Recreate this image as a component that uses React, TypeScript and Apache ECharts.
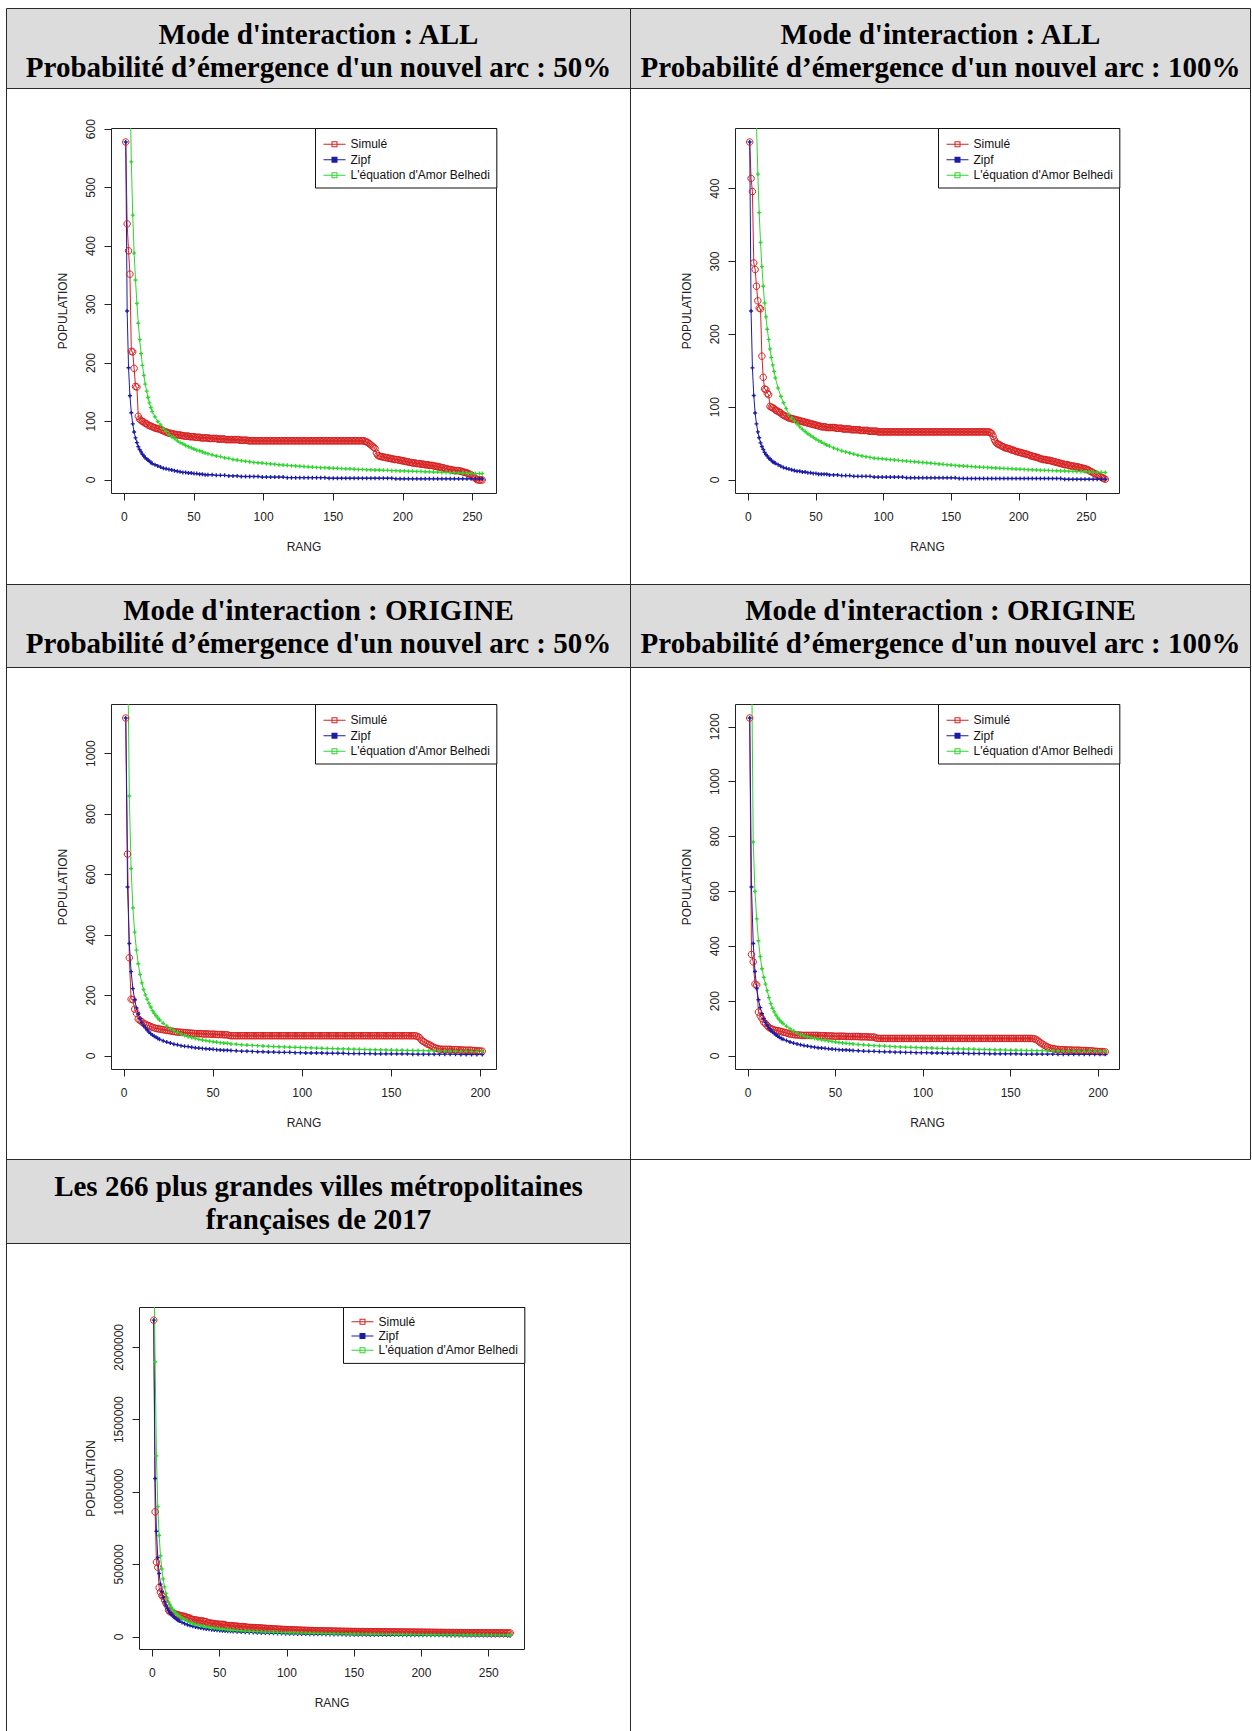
import React, { useEffect, useRef } from "react";
import * as echarts from "echarts";

// ------------------------------------------------------------------ data
// every rank (used by the simulated series, which is drawn at every rank)
const ranksFull = [
  1, 2, 3, 4, 5, 6, 7, 8, 9, 10, 11, 12, 13, 14, 15, 16, 17, 18, 19, 20,
  21, 22, 23, 24, 25, 26, 27, 28, 29, 30, 31, 32, 33, 34, 35, 36, 37, 38, 39, 40,
  41, 42, 43, 44, 45, 46, 47, 48, 49, 50, 51, 52, 53, 54, 55, 56, 57, 58, 59, 60,
  61, 62, 63, 64, 65, 66, 67, 68, 69, 70, 71, 72, 73, 74, 75, 76, 77, 78, 79, 80,
  81, 82, 83, 84, 85, 86, 87, 88, 89, 90, 91, 92, 93, 94, 95, 96, 97, 98, 99, 100,
  101, 102, 103, 104, 105, 106, 107, 108, 109, 110, 111, 112, 113, 114, 115, 116, 117, 118, 119, 120,
  121, 122, 123, 124, 125, 126, 127, 128, 129, 130, 131, 132, 133, 134, 135, 136, 137, 138, 139, 140,
  141, 142, 143, 144, 145, 146, 147, 148, 149, 150, 151, 152, 153, 154, 155, 156, 157, 158, 159, 160,
  161, 162, 163, 164, 165, 166, 167, 168, 169, 170, 171, 172, 173, 174, 175, 176, 177, 178, 179, 180,
  181, 182, 183, 184, 185, 186, 187, 188, 189, 190, 191, 192, 193, 194, 195, 196, 197, 198, 199, 200,
  201, 202, 203, 204, 205, 206, 207, 208, 209, 210, 211, 212, 213, 214, 215, 216, 217, 218, 219, 220,
  221, 222, 223, 224, 225, 226, 227, 228, 229, 230, 231, 232, 233, 234, 235, 236, 237, 238, 239, 240,
  241, 242, 243, 244, 245, 246, 247, 248, 249, 250, 251, 252, 253, 254, 255, 256, 257, 258, 259, 260,
  261, 262, 263, 264, 265, 266,
];

// ---- Panel 1 : Mode ALL, 50 %
const sim1 = [
  578, 438, 392, 352, 220, 219, 191, 160, 159, 109,
  104, 102, 100, 99, 97, 96, 94, 93, 92, 91,
  90, 89, 88, 88, 87, 86, 85, 84, 83, 82,
  81, 80, 80, 79, 79, 78, 78, 77, 77, 77,
  76, 76, 75, 75, 75, 75, 74, 74, 74, 74,
  73, 73, 73, 73, 72, 72, 72, 72, 72, 72,
  71, 71, 71, 71, 71, 71, 70, 70, 70, 70,
  70, 70, 69, 69, 69, 69, 69, 69, 69, 69,
  69, 69, 68, 68, 68, 68, 68, 68, 67, 67,
  67, 67, 67, 67, 67, 67, 67, 67, 67, 67,
  67, 67, 67, 67, 67, 67, 67, 67, 67, 67,
  67, 67, 67, 67, 67, 67, 67, 67, 67, 67,
  67, 67, 67, 67, 67, 67, 67, 67, 67, 67,
  67, 67, 67, 67, 67, 67, 67, 67, 67, 67,
  67, 67, 67, 67, 67, 67, 67, 67, 67, 67,
  67, 67, 67, 67, 67, 67, 67, 67, 67, 67,
  67, 67, 67, 67, 67, 67, 67, 67, 67, 67,
  67, 67, 66, 65, 64, 62, 60, 58, 56, 54,
  46, 42, 41, 40, 40, 39, 39, 38, 38, 37,
  37, 36, 36, 35, 35, 35, 34, 34, 33, 33,
  32, 32, 31, 31, 30, 30, 29, 29, 29, 28,
  28, 28, 27, 27, 27, 26, 26, 26, 25, 25,
  25, 24, 24, 23, 23, 22, 22, 21, 21, 20,
  19, 19, 18, 18, 17, 17, 16, 16, 16, 16,
  15, 15, 14, 13, 13, 12, 11, 10, 9, 7,
  5, 3, 1, 0, 0, 0, 0,
];
const ranksFit1 = [
  1, 2, 3, 4, 5, 6, 7, 8, 9, 10, 11, 12, 13, 14, 15, 16, 17, 18, 19, 20,
  22, 24, 26, 28, 30, 32, 34, 36, 38, 40, 42, 44, 46, 48, 50, 52, 54, 56, 58, 60,
  63, 66, 69, 72, 75, 78, 81, 84, 87, 90, 93, 96, 99, 102, 105, 108, 111, 114, 117, 120,
  123, 126, 129, 132, 135, 138, 141, 144, 147, 150, 153, 156, 159, 162, 165, 168, 171, 174, 177, 180,
  183, 186, 189, 192, 195, 198, 201, 204, 207, 210, 213, 216, 219, 222, 225, 228, 231, 234, 237, 240,
  243, 246, 249, 252, 255, 257,
];
const zipf1 = [
  578, 289, 192, 144, 115, 96, 82, 72, 64, 57,
  52, 48, 44, 41, 38, 36, 34, 32, 30, 28,
  26, 24, 22, 20, 19, 18, 17, 16, 15, 14,
  13, 13, 12, 12, 11, 11, 10, 10, 9, 9,
  9, 8, 8, 8, 7, 7, 7, 6, 6, 6,
  6, 6, 5, 5, 5, 5, 5, 5, 4, 4,
  4, 4, 4, 4, 4, 4, 4, 4, 3, 3,
  3, 3, 3, 3, 3, 3, 3, 3, 3, 3,
  3, 3, 3, 3, 2, 2, 2, 2, 2, 2,
  2, 2, 2, 2, 2, 2, 2, 2, 2, 2,
  2, 2, 2, 2, 2, 2,
];
const bel1 = [
  2720, 1360, 907, 680, 544, 453, 388, 342, 302, 268,
  240, 216, 196, 179, 164, 152, 141, 132, 124, 117,
  108, 100, 94, 88, 83, 78, 74, 71, 67, 64,
  62, 59, 57, 55, 53, 51, 50, 48, 46, 45,
  43, 41, 40, 38, 37, 35, 34, 33, 32, 31,
  30, 29.5, 29, 28, 27.5, 27, 26, 25.5, 25, 24.5,
  24, 23.5, 23, 22.5, 22, 21.5, 21, 21, 20.5, 20,
  20, 19.5, 19, 19, 18.5, 18, 18, 17.5, 17.5, 17,
  17, 16.5, 16.5, 16, 16, 15.5, 15.5, 15, 15, 14.5,
  14.5, 14, 14, 13.5, 13.5, 13, 13, 12.5, 12.5, 12,
  12, 11.5, 11.5, 11, 11, 11,
];

// ---- Panel 2 : Mode ALL, 100 %
const sim2 = [
  464, 414, 396, 298, 289, 266, 246, 236, 235, 170,
  141, 125, 124, 119, 117, 101, 100, 99, 98, 96,
  95, 94, 93, 92, 90, 89, 88, 87, 86, 85,
  85, 84, 84, 83, 83, 82, 82, 81, 81, 80,
  80, 79, 79, 78, 78, 77, 77, 76, 76, 75,
  75, 74, 74, 73, 73, 73, 73, 72, 72, 72,
  72, 72, 72, 72, 71, 71, 71, 71, 71, 70,
  70, 70, 70, 70, 70, 69, 69, 69, 69, 69,
  69, 69, 68, 68, 68, 68, 68, 68, 67, 67,
  67, 67, 67, 67, 67, 66, 66, 66, 66, 66,
  66, 66, 66, 66, 66, 66, 66, 66, 66, 66,
  66, 66, 66, 66, 66, 66, 66, 66, 66, 66,
  66, 66, 66, 66, 66, 66, 66, 66, 66, 66,
  66, 66, 66, 66, 66, 66, 66, 66, 66, 66,
  66, 66, 66, 66, 66, 66, 66, 66, 66, 66,
  66, 66, 66, 66, 66, 66, 66, 66, 66, 66,
  66, 66, 66, 66, 66, 66, 66, 66, 66, 66,
  66, 66, 66, 66, 66, 66, 66, 66, 65, 64,
  60, 55, 52, 50, 49, 48, 47, 46, 45, 44,
  44, 43, 43, 42, 41, 41, 40, 39, 39, 38,
  38, 37, 37, 36, 36, 35, 35, 34, 33, 33,
  32, 32, 31, 31, 30, 29, 29, 28, 28, 28,
  27, 27, 27, 26, 26, 25, 25, 24, 24, 23,
  23, 22, 22, 21, 21, 21, 20, 20, 19, 19,
  19, 18, 18, 18, 17, 17, 16, 16, 15, 15,
  14, 13, 12, 11, 10, 9, 8, 7, 6, 5,
  4, 3, 2, 1,
];
const ranksFit2 = [
  1, 2, 3, 4, 5, 6, 7, 8, 9, 10, 11, 12, 13, 14, 15, 16, 17, 18, 19, 20,
  22, 24, 26, 28, 30, 32, 34, 36, 38, 40, 42, 44, 46, 48, 50, 52, 54, 56, 58, 60,
  63, 66, 69, 72, 75, 78, 81, 84, 87, 90, 93, 96, 99, 102, 105, 108, 111, 114, 117, 120,
  123, 126, 129, 132, 135, 138, 141, 144, 147, 150, 153, 156, 159, 162, 165, 168, 171, 174, 177, 180,
  183, 186, 189, 192, 195, 198, 201, 204, 207, 210, 213, 216, 219, 222, 225, 228, 231, 234, 237, 240,
  243, 246, 249, 252, 255, 258, 261, 264,
];
const zipf2 = [
  464, 232, 154, 116, 92, 77, 66, 58, 51, 46,
  42, 38, 35, 33, 30, 29, 27, 25, 24, 23,
  21, 19, 17, 16, 15, 14, 13, 12, 12, 11,
  11, 10, 10, 9, 9, 8, 8, 8, 8, 7,
  7, 7, 6, 6, 6, 5, 5, 5, 5, 5,
  4, 4, 4, 4, 4, 4, 4, 4, 3, 3,
  3, 3, 3, 3, 3, 3, 3, 3, 3, 3,
  3, 2, 2, 2, 2, 2, 2, 2, 2, 2,
  2, 2, 2, 2, 2, 2, 2, 2, 2, 2,
  2, 2, 2, 2, 2, 2, 2, 1, 1, 1,
  1, 1, 1, 1, 1, 1, 1, 1,
];
const bel2 = [
  3000, 1500, 1000, 750, 600, 490, 420, 367, 326, 293,
  266, 243, 224, 207, 193, 180, 168, 158, 149, 140,
  126, 115, 106, 98, 90, 85, 81, 77, 73, 69.5,
  66.5, 63.5, 61, 58.5, 56, 54, 52, 50, 48, 46.5,
  44, 42, 40, 38.5, 37, 35.5, 34, 33, 32, 31,
  30, 29.5, 29, 28.5, 28, 27.5, 27, 26.5, 26, 25.5,
  25, 24.5, 24, 23.5, 23, 22.5, 22, 21.5, 21, 20.5,
  20, 19.5, 19.2, 18.8, 18.4, 18, 17.7, 17.4, 17.1, 16.8,
  16.5, 16.2, 15.9, 15.6, 15.3, 15, 14.8, 14.5, 14.2, 14,
  13.8, 13.5, 13.3, 13.1, 12.9, 12.7, 12.5, 12.3, 12.1, 11.9,
  11.7, 11.5, 11.3, 11.1, 10.9, 10.7, 10.5, 10.3,
];

// ---- Panel 3 : Mode ORIGINE, 50 %
const sim3 = [
  1118, 668, 325, 188, 186, 155, 141, 122, 118, 113,
  108, 105, 102, 100, 97, 95, 93, 91, 90, 89,
  88, 87, 86, 85, 84, 83, 82, 81, 80, 79,
  79, 78, 78, 77, 77, 76, 76, 75, 75, 74,
  74, 74, 74, 73, 73, 73, 73, 72, 72, 72,
  72, 71, 71, 71, 71, 70, 70, 70, 68, 67,
  67, 67, 67, 67, 67, 67, 67, 67, 67, 67,
  67, 67, 67, 67, 67, 67, 67, 67, 67, 67,
  67, 67, 67, 67, 67, 67, 67, 67, 67, 67,
  67, 67, 67, 67, 67, 67, 67, 67, 67, 67,
  67, 67, 67, 67, 67, 67, 67, 67, 67, 67,
  67, 67, 67, 67, 67, 67, 67, 67, 67, 67,
  67, 67, 67, 67, 67, 67, 67, 67, 67, 67,
  67, 67, 67, 67, 67, 67, 67, 67, 67, 67,
  67, 67, 67, 67, 67, 67, 67, 67, 67, 67,
  67, 67, 67, 67, 67, 67, 67, 67, 67, 67,
  67, 67, 67, 66, 64, 60, 52, 48, 44, 40,
  38, 35, 31, 28, 26, 24, 23, 22, 22, 22,
  22, 22, 22, 21, 21, 21, 21, 20, 20, 20,
  19, 19, 19, 19, 19, 18, 18, 17, 17, 16,
  16,
];
const ranksFit3 = [
  1, 2, 3, 4, 5, 6, 7, 8, 9, 10, 11, 12, 13, 14, 15, 16, 17, 18, 19, 20,
  22, 24, 26, 28, 30, 32, 34, 36, 38, 40, 42, 44, 46, 48, 50, 52, 54, 56, 58, 60,
  63, 66, 69, 72, 75, 78, 81, 84, 87, 90, 93, 96, 99, 102, 105, 108, 111, 114, 117, 120,
  123, 126, 129, 132, 135, 138, 141, 144, 147, 150, 153, 156, 159, 162, 165, 168, 171, 174, 177, 180,
  183, 186, 189, 192, 195, 198, 201,
];
const zipf3 = [
  1118, 559, 372, 279, 223, 186, 159, 139, 124, 111,
  101, 93, 86, 79, 74, 69, 65, 62, 58, 55,
  50, 46, 43, 39, 37, 34, 32, 31, 29, 27,
  26, 25, 24, 23, 22, 21, 20, 19, 19, 18,
  17, 16, 16, 15, 14, 14, 13, 13, 12, 12,
  12, 11, 11, 10, 10, 10, 10, 9, 9, 9,
  9, 8, 8, 8, 8, 8, 7, 7, 7, 7,
  7, 7, 7, 6, 6, 6, 6, 6, 6, 6,
  6, 6, 5, 5, 5, 5, 5,
];
const bel3 = [
  2800, 1400, 860, 620, 490, 410, 350, 305, 270, 242,
  220, 202, 188, 174, 162, 150, 141, 133, 126, 119,
  108, 99, 91, 84, 78, 73, 68, 64, 61, 58,
  55, 53, 51, 49, 47, 46, 44, 43, 42, 40,
  39, 37, 36, 35, 34, 33, 32, 31, 30.5, 30,
  29, 28.5, 28, 27.5, 27, 26, 25.5, 25, 24.5, 24,
  23.5, 23, 22.5, 22, 21.5, 21, 20.5, 20, 20, 19.5,
  19, 19, 18.5, 18, 18, 17.5, 17, 17, 16.5, 16.5,
  16, 16, 15.5, 15.5, 15, 15, 15,
];

// ---- Panel 4 : Mode ORIGINE, 100 %
const sim4 = [
  1232, 370, 343, 262, 259, 160, 146, 136, 124, 118,
  110, 104, 100, 97, 95, 93, 92, 91, 89, 87,
  86, 84, 82, 80, 79, 78, 77, 77, 76, 76,
  75, 75, 75, 75, 75, 75, 75, 75, 75, 75,
  74, 74, 74, 74, 73, 73, 73, 73, 72, 72,
  72, 72, 72, 72, 72, 71, 71, 71, 71, 71,
  71, 71, 71, 70, 70, 70, 70, 70, 69, 69,
  69, 69, 66, 64, 64, 64, 64, 64, 64, 64,
  64, 64, 64, 64, 64, 64, 64, 64, 64, 64,
  64, 64, 64, 64, 64, 64, 64, 64, 64, 64,
  64, 64, 64, 64, 64, 64, 64, 64, 64, 64,
  64, 64, 64, 64, 64, 64, 64, 64, 64, 64,
  64, 64, 64, 64, 64, 64, 64, 64, 64, 64,
  64, 64, 64, 64, 64, 64, 64, 64, 64, 64,
  64, 64, 64, 64, 64, 64, 64, 64, 64, 64,
  64, 64, 64, 64, 64, 64, 64, 64, 64, 64,
  64, 64, 63, 62, 58, 54, 48, 44, 40, 36,
  33, 30, 28, 27, 26, 24, 24, 23, 23, 23,
  22, 22, 22, 22, 21, 21, 21, 21, 21, 20,
  20, 20, 20, 19, 19, 19, 18, 17, 17, 16,
  16, 16, 15, 15,
];
const ranksFit4 = [
  1, 2, 3, 4, 5, 6, 7, 8, 9, 10, 11, 12, 13, 14, 15, 16, 17, 18, 19, 20,
  22, 24, 26, 28, 30, 32, 34, 36, 38, 40, 42, 44, 46, 48, 50, 52, 54, 56, 58, 60,
  63, 66, 69, 72, 75, 78, 81, 84, 87, 90, 93, 96, 99, 102, 105, 108, 111, 114, 117, 120,
  123, 126, 129, 132, 135, 138, 141, 144, 147, 150, 153, 156, 159, 162, 165, 168, 171, 174, 177, 180,
  183, 186, 189, 192, 195, 198, 201, 204,
];
const zipf4 = [
  1232, 616, 410, 308, 246, 205, 176, 154, 136, 123,
  112, 102, 94, 88, 82, 77, 72, 68, 64, 61,
  56, 51, 47, 44, 41, 38, 36, 34, 32, 30,
  29, 28, 26, 25, 24, 23, 22, 22, 21, 20,
  19, 18, 17, 17, 16, 15, 15, 14, 14, 13,
  13, 12, 12, 12, 11, 11, 11, 10, 10, 10,
  10, 9, 9, 9, 9, 8, 8, 8, 8, 8,
  8, 7, 7, 7, 7, 7, 7, 7, 6, 6,
  6, 6, 6, 6, 6, 6, 6, 6,
];
const bel4 = [
  3200, 1500, 780, 600, 500, 420, 362, 318, 287, 262,
  238, 213, 191, 174, 161, 149, 139, 131, 124, 118,
  108, 99, 91, 84, 78, 73, 70, 67, 64, 61,
  59, 57, 55, 53, 51, 49, 47.5, 46, 45, 44,
  42, 40.5, 39, 38, 37, 36, 35, 34, 33, 32,
  31.5, 31, 30, 29.5, 29, 28, 27.5, 27, 26.5, 26,
  25.5, 25, 24.5, 24, 23.5, 23, 22.5, 22, 21.5, 21,
  21, 20.5, 20, 20, 19.5, 19.5, 19, 19, 18.5, 18.5,
  18, 18, 17.5, 17.5, 17, 17, 16.5, 16,
];

// ---- Panel 5 : 266 plus grandes villes métropolitaines françaises, 2017
const sim5 = [
  2187526, 863310, 516092, 479553, 340017, 309346, 285121, 280966, 254436, 232787,
  216815, 183113, 172565, 171953, 170147, 158454, 156920, 154508, 150610, 149019,
  143886, 143097, 142946, 139602, 136463, 133755, 132175, 126924, 121875, 120071,
  116466, 116429, 116238, 111135, 110468, 110145, 108942, 108402, 105512, 104592,
  97476, 96990, 94258, 93557, 92378, 90739, 88291, 88108, 86742, 86061,
  85771, 85740, 85368, 82198, 78152, 77409, 77177, 77130, 76810, 74893,
  74152, 73911, 73438, 71318, 70813, 70659, 70619, 69105, 68395, 66659,
  65405, 64736, 64523, 64379, 63283, 62477, 62308, 61859, 61483, 60810,
  60750, 59940, 58833, 58707, 57533, 57149, 56500, 55900, 55300, 54700,
  54100, 53500, 53000, 52500, 52000, 51500, 51000, 50500, 50000, 49600,
  49200, 48800, 48400, 48000, 47600, 47200, 46800, 46400, 46000, 45700,
  45400, 45100, 44800, 44500, 44200, 43900, 43600, 43300, 43000, 42700,
  42400, 42100, 41800, 41500, 41200, 41000, 40800, 40600, 40400, 40200,
  40000, 39800, 39600, 39400, 39200, 39000, 38800, 38600, 38400, 38200,
  38000, 37850, 37700, 37550, 37400, 37250, 37100, 36950, 36800, 36650,
  36500, 36400, 36300, 36200, 36100, 36000, 35900, 35800, 35700, 35600,
  35500, 35400, 35300, 35200, 35100, 35000, 34900, 34800, 34700, 34600,
  34500, 34400, 34300, 34200, 34100, 34000, 33900, 33800, 33700, 33600,
  33500, 33400, 33300, 33200, 33100, 33000, 32900, 32800, 32700, 32600,
  32500, 32400, 32300, 32200, 32100, 32000, 31900, 31800, 31700, 31600,
  31500, 31400, 31300, 31200, 31100, 31000, 30900, 30800, 30700, 30600,
  30500, 30400, 30300, 30200, 30100, 30000, 29900, 29800, 29700, 29600,
  29500, 29400, 29300, 29200, 29100, 29000, 28900, 28800, 28700, 28600,
  28500, 28400, 28300, 28200, 28100, 28000, 27950, 27900, 27850, 27800,
  27750, 27700, 27650, 27600, 27550, 27500, 27450, 27400, 27350, 27300,
  27250, 27200, 27150, 27100, 27050, 27000, 26950, 26900, 26850, 26800,
  26750, 26700, 26650, 26600, 26550, 26500,
];
const ranksFit5 = [
  1, 2, 3, 4, 5, 6, 7, 8, 9, 10, 11, 12, 13, 14, 15, 16, 17, 18, 19, 20,
  22, 24, 26, 28, 30, 32, 34, 36, 38, 40, 42, 44, 46, 48, 50, 52, 54, 56, 58, 60,
  63, 66, 69, 72, 75, 78, 81, 84, 87, 90, 93, 96, 99, 102, 105, 108, 111, 114, 117, 120,
  123, 126, 129, 132, 135, 138, 141, 144, 147, 150, 153, 156, 159, 162, 165, 168, 171, 174, 177, 180,
  183, 186, 189, 192, 195, 198, 201, 204, 207, 210, 213, 216, 219, 222, 225, 228, 231, 234, 237, 240,
  243, 246, 249, 252, 255, 258, 261, 264, 266,
];
const zipf5 = [
  2187526, 1093763, 729175, 546882, 437505, 364588, 312504, 273441, 243058, 218753,
  198866, 182294, 168271, 156252, 145835, 136720, 128678, 121529, 115133, 109376,
  99433, 91147, 84136, 78126, 72918, 68360, 64339, 60765, 57567, 54688,
  52084, 49717, 47555, 45574, 43751, 42068, 40510, 39063, 37716, 36459,
  34723, 33144, 31703, 30382, 29167, 28045, 27006, 26042, 25144, 24306,
  23522, 22787, 22096, 21446, 20834, 20255, 19708, 19189, 18697, 18229,
  17785, 17361, 16958, 16572, 16204, 15852, 15515, 15191, 14881, 14584,
  14298, 14023, 13758, 13503, 13258, 13021, 12793, 12572, 12359, 12153,
  11954, 11761, 11574, 11393, 11218, 11048, 10883, 10723, 10568, 10417,
  10270, 10127, 9989, 9854, 9722, 9594, 9470, 9348, 9230, 9115,
  9002, 8892, 8785, 8681, 8579, 8479, 8381, 8286, 8224,
];
const bel5 = [
  2700000, 1900000, 1250000, 900000, 700000, 560000, 470000, 400000, 345000, 300000,
  268000, 242000, 222000, 205000, 190000, 178000, 167000, 157000, 149000, 142000,
  130000, 118000, 108000, 99000, 92000, 86000, 81000, 77000, 73000, 69000,
  66000, 63000, 60000, 57500, 55000, 53000, 51000, 49000, 47500, 46000,
  44000, 42000, 40000, 38500, 37000, 35500, 34500, 33500, 32500, 31500,
  30500, 29500, 28700, 28000, 27200, 26500, 25800, 25200, 24600, 24000,
  23400, 22900, 22400, 21900, 21500, 21000, 20600, 20200, 19800, 19400,
  19100, 18700, 18400, 18100, 17800, 17500, 17200, 16900, 16600, 16400,
  16100, 15900, 15600, 15400, 15200, 15000, 14800, 14600, 14400, 14200,
  14000, 13800, 13600, 13400, 13300, 13100, 12900, 12800, 12600, 12500,
  12300, 12200, 12000, 11900, 11700, 11600, 11500, 11300, 11200,
];

// tick labels
const xTicks250 = [0, 50, 100, 150, 200, 250];
const xTicks200 = [0, 50, 100, 150, 200];
const yTicks1 = [0, 100, 200, 300, 400, 500, 600];
const yTicks2 = [0, 100, 200, 300, 400];
const yTicks3 = [0, 200, 400, 600, 800, 1000];
const yTicks4 = [0, 200, 400, 600, 800, 1000, 1200];
const yTicks5 = [0, 500000, 1000000, 1500000, 2000000];

// texts
const headerTexts = [
  "Mode d'interaction : ALL\nProbabilité d’émergence d'un nouvel arc : 50%",
  "Mode d'interaction : ALL\nProbabilité d’émergence d'un nouvel arc : 100%",
  "Mode d'interaction : ORIGINE\nProbabilité d’émergence d'un nouvel arc : 50%",
  "Mode d'interaction : ORIGINE\nProbabilité d’émergence d'un nouvel arc : 100%",
  "Les 266 plus grandes villes métropolitaines\nfrançaises de 2017",
];
const seriesNames = ["Simulé", "Zipf", "L'équation d'Amor Belhedi"];
const xAxisName = "RANG";
const yAxisName = "POPULATION";

// ------------------------------------------------------------------ styles & layout
const RED = "#d82020";
const BLUE = "#1c1ca6";
const GREEN = "#2fd62f";
const AXIS = "#222222";
const TXT = "#222222";
const SANS = "Liberation Sans, Arial, sans-serif";
const SERIF = "Liberation Serif, Times New Roman, serif";
const TABLE_LINE = "#2a2a2a";
const HEADER_FILL = "#dcdcdc";

const PLUS = "path://M1,0H2V1H3V2H2V3H1V2H0V1H1Z";
const ICON_OPEN = "path://M0,2.5H22V3.5H0Z M8,0H14V6H8Z M9,1V5H13V1Z";
const ICON_FILLED = "path://M0,2.5H22V3.5H0Z M8,0H14V6H8Z";

const panels = [
  { sim: sim1, fitRanks: ranksFit1, zipf: zipf1, bel: bel1, xTicks: xTicks250, yTicks: yTicks1 },
  { sim: sim2, fitRanks: ranksFit2, zipf: zipf2, bel: bel2, xTicks: xTicks250, yTicks: yTicks2 },
  { sim: sim3, fitRanks: ranksFit3, zipf: zipf3, bel: bel3, xTicks: xTicks200, yTicks: yTicks3 },
  { sim: sim4, fitRanks: ranksFit4, zipf: zipf4, bel: bel4, xTicks: xTicks200, yTicks: yTicks4 },
  { sim: sim5, fitRanks: ranksFit5, zipf: zipf5, bel: bel5, xTicks: xTicks250, yTicks: yTicks5 },
];

const layouts = [
  { left: 111.5, top: 128.5, width: 385, height: 365, lgLeft: 315.5, lgPad: [8, 7, 5, 8], lgLine: 15.5 },
  { left: 735.5, top: 128.5, width: 384, height: 365, lgLeft: 938.5, lgPad: [8, 7, 5, 8], lgLine: 15.5 },
  { left: 111.5, top: 704.5, width: 385, height: 365, lgLeft: 315.5, lgPad: [8, 7, 5, 8], lgLine: 15.5 },
  { left: 735.5, top: 704.5, width: 384, height: 365, lgLeft: 938.5, lgPad: [8, 7, 5, 8], lgLine: 15.5 },
  { left: 139.5, top: 1307.5, width: 385, height: 342, lgLeft: 343.5, lgPad: [7, 7, 6, 8], lgLine: 14.3 },
];

const headerPos = [
  { x: 318.5, y: 50.5 },
  { x: 940.5, y: 50.5 },
  { x: 318.5, y: 626.5 },
  { x: 940.5, y: 626.5 },
  { x: 318.5, y: 1202.5 },
];

function zip(xs: number[], ys: number[]) {
  return ys.map((y, i) => [xs[i], y]);
}

function buildOption() {
  const grid: any[] = [];
  const xAxis: any[] = [];
  const yAxis: any[] = [];
  const series: any[] = [];
  const legend: any[] = [];

  panels.forEach((p, i) => {
    const L = layouts[i];
    const simRanks = ranksFull.slice(0, p.sim.length);
    const r0 = simRanks[0];
    const r1 = simRanks[simRanks.length - 1];
    const xPad = 0.04 * (r1 - r0);
    const yTop = Math.max(...p.sim);
    const yPad = 0.04 * yTop;

    grid.push({
      left: L.left,
      top: L.top,
      width: L.width,
      height: L.height,
      show: true,
      borderColor: AXIS,
      borderWidth: 1,
      backgroundColor: "transparent",
      containLabel: false,
    });

    xAxis.push({
      type: "value",
      gridIndex: i,
      min: r0 - xPad,
      max: r1 + xPad,
      name: xAxisName,
      nameLocation: "middle",
      nameGap: 47,
      nameTextStyle: { fontSize: 12, color: TXT, fontFamily: SANS },
      axisLine: { show: false, onZero: false },
      axisTick: {
        show: true,
        inside: false,
        length: 7,
        customValues: p.xTicks,
        lineStyle: { color: AXIS, width: 1 },
      },
      axisLabel: {
        show: true,
        margin: 17,
        fontSize: 12,
        color: TXT,
        fontFamily: SANS,
        customValues: p.xTicks,
        formatter: (v: number) => String(v),
      },
      splitLine: { show: false },
    });

    yAxis.push({
      type: "value",
      gridIndex: i,
      min: -yPad,
      max: yTop + yPad,
      name: yAxisName,
      nameLocation: "middle",
      nameGap: 43,
      nameRotate: 90,
      nameTextStyle: { fontSize: 12, color: TXT, fontFamily: SANS },
      axisLine: { show: false, onZero: false },
      axisTick: {
        show: true,
        inside: false,
        length: 7,
        customValues: p.yTicks,
        lineStyle: { color: AXIS, width: 1 },
      },
      axisLabel: {
        show: true,
        rotate: 90,
        margin: 15,
        fontSize: 12,
        color: TXT,
        fontFamily: SANS,
        customValues: p.yTicks,
        formatter: (v: number) => String(v),
      },
      splitLine: { show: false },
    });

    series.push({
      type: "line",
      name: seriesNames[0],
      xAxisIndex: i,
      yAxisIndex: i,
      data: zip(simRanks, p.sim),
      symbol: "circle",
      symbolSize: 6.5,
      itemStyle: { color: "rgba(0,0,0,0)", borderColor: RED, borderWidth: 1 },
      lineStyle: { color: RED, width: 1 },
      emphasis: { disabled: true },
      silent: true,
      clip: true,
    });
    series.push({
      type: "line",
      name: seriesNames[1],
      xAxisIndex: i,
      yAxisIndex: i,
      data: zip(p.fitRanks, p.zipf),
      symbol: PLUS,
      symbolSize: 4,
      itemStyle: { color: BLUE, borderWidth: 0 },
      lineStyle: { color: BLUE, width: 1 },
      emphasis: { disabled: true },
      silent: true,
      clip: true,
    });
    series.push({
      type: "line",
      name: seriesNames[2],
      xAxisIndex: i,
      yAxisIndex: i,
      data: zip(p.fitRanks, p.bel),
      symbol: PLUS,
      symbolSize: 4,
      itemStyle: { color: GREEN, borderWidth: 0 },
      lineStyle: { color: GREEN, width: 1 },
      emphasis: { disabled: true },
      silent: true,
      clip: true,
    });

    legend.push({
      left: L.lgLeft,
      top: L.top,
      orient: "vertical",
      itemGap: 0,
      itemWidth: 22,
      itemHeight: 6,
      padding: L.lgPad,
      borderColor: "#111111",
      borderWidth: 1,
      backgroundColor: "#ffffff",
      selectedMode: false,
      itemStyle: { borderWidth: 0 },
      textStyle: { fontSize: 12, color: "#111111", fontFamily: SANS, lineHeight: L.lgLine },
      data: [
        { name: seriesNames[0], icon: ICON_OPEN, itemStyle: { color: RED, borderWidth: 0 } },
        { name: seriesNames[1], icon: ICON_FILLED, itemStyle: { color: BLUE, borderWidth: 0 } },
        { name: seriesNames[2], icon: ICON_OPEN, itemStyle: { color: GREEN, borderWidth: 0 } },
      ],
    });
  });

  // table decoration
  const elements: any[] = [];
  const rect = (x: number, y: number, w: number, h: number) => ({
    type: "rect",
    silent: true,
    z: -10,
    shape: { x, y, width: w, height: h },
    style: { fill: HEADER_FILL },
  });
  const line = (x1: number, y1: number, x2: number, y2: number) => ({
    type: "line",
    silent: true,
    z: 10,
    shape: { x1, y1, x2, y2 },
    style: { stroke: TABLE_LINE, lineWidth: 1 },
  });
  elements.push(rect(7, 9, 1243, 79));
  elements.push(rect(7, 585, 1243, 82));
  elements.push(rect(7, 1160, 623, 83));
  elements.push(line(6.5, 8.5, 1250.5, 8.5));
  elements.push(line(6.5, 88.5, 1250.5, 88.5));
  elements.push(line(6.5, 584.5, 1250.5, 584.5));
  elements.push(line(6.5, 667.5, 1250.5, 667.5));
  elements.push(line(6.5, 1159.5, 1250.5, 1159.5));
  elements.push(line(6.5, 1243.5, 630.5, 1243.5));
  elements.push(line(6.5, 8.5, 6.5, 1731));
  elements.push(line(630.5, 8.5, 630.5, 1731));
  elements.push(line(1250.5, 8.5, 1250.5, 1159.5));

  headerTexts.forEach((t, i) => {
    elements.push({
      type: "text",
      silent: true,
      z: 11,
      x: headerPos[i].x,
      y: headerPos[i].y,
      style: {
        text: t,
        fill: "#000000",
        fontSize: 29,
        fontWeight: "bold",
        fontFamily: SERIF,
        lineHeight: 33,
        align: "center",
        verticalAlign: "middle",
        textAlign: "center",
        textVerticalAlign: "middle",
      },
    });
  });

  return {
    animation: false,
    backgroundColor: "#ffffff",
    textStyle: { fontFamily: SANS },
    grid,
    xAxis,
    yAxis,
    series,
    legend,
    graphic: { elements },
  };
}

export default function App() {
  const ref = useRef<HTMLDivElement>(null);
  useEffect(() => {
    if (!ref.current) return;
    const chart = echarts.init(ref.current, undefined, { renderer: "svg" });
    chart.setOption(buildOption() as any);
    return () => {
      chart.dispose();
    };
  }, []);
  return (
    <div
      ref={ref}
      style={{ position: "absolute", left: 0, top: 0, width: 1252, height: 1731 }}
    />
  );
}
